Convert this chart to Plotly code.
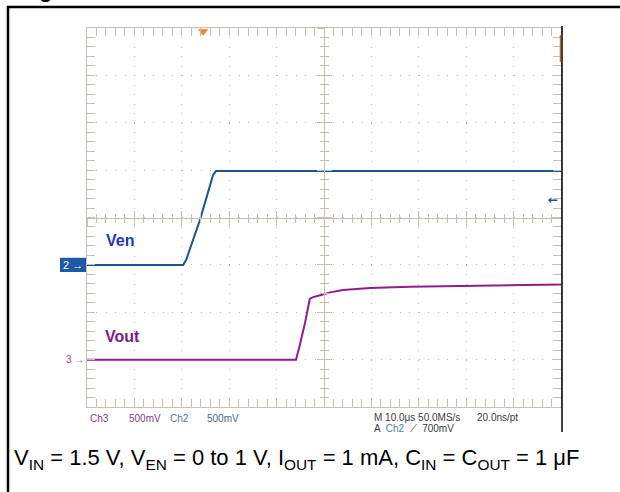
import plotly.graph_objects as go

# ---- data ----
# time in microseconds (10 us/div), voltages in volts (500 mV/div)
ven_time = [0, 20.3, 20.9, 21.7, 23.8, 25.5, 26.6, 27.2, 100]
ven_volt = [0, 0, 0.05, 0.16, 0.47, 0.76, 0.95, 0.99, 0.99]

vout_time = [0, 44.1, 44.9, 46.0, 47.0, 47.7, 49.2, 51.3, 54.0, 59.7, 68.1, 78.7, 89.2, 100]
vout_volt = [0, 0, 0.155, 0.39, 0.64, 0.66, 0.68, 0.71, 0.735, 0.756, 0.77, 0.78, 0.788, 0.793]

trigger_time = [24.5]
x_range = [0, 100]          # 10 divisions x 10 us
div_range = [-4, 4]          # 8 vertical divisions
ven_range = [-1.5, 2.5]      # Ch2 ground 1 div below centre
vout_range = [-0.5, 3.5]     # Ch3 ground 3 div below centre

W, H = 620, 492
L, R, T, B = 87, 59, 28, 85
PW, PH = W - L - R, H - T - B

def px(x):
    return (x - L) / PW

def py(y):
    return (H - B - y) / PH

BORDER = "#c6bfb0"
GRID = "#bcbcbc"
VEN_C = "#1d5592"
VOUT_C = "#8e1d8e"

fig = go.Figure()
fig.add_trace(go.Scatter(x=ven_time, y=ven_volt, mode="lines", yaxis="y2",
                         line=dict(color=VEN_C, width=2), showlegend=False))
fig.add_trace(go.Scatter(x=vout_time, y=vout_volt, mode="lines", yaxis="y3",
                         line=dict(color=VOUT_C, width=2), showlegend=False))
fig.add_trace(go.Scatter(x=trigger_time, y=[3.93], mode="markers", yaxis="y",
                         marker=dict(symbol="triangle-down", size=9, color="#f08a2e"),
                         cliponaxis=False, showlegend=False))
# helper (empty) traces so the centre graticule axes are drawn
fig.add_trace(go.Scatter(x=[None], y=[None], xaxis="x2", yaxis="y", showlegend=False))
fig.add_trace(go.Scatter(x=[None], y=[None], xaxis="x3", yaxis="y", showlegend=False))
fig.add_trace(go.Scatter(x=[None], y=[None], xaxis="x", yaxis="y4", showlegend=False))
fig.add_trace(go.Scatter(x=[None], y=[None], xaxis="x", yaxis="y5", showlegend=False))

frame_axis = dict(showline=True, linecolor=BORDER, linewidth=1, mirror="allticks",
                  ticks="inside", ticklen=8, tickcolor=BORDER, tickwidth=1,
                  showticklabels=False, zeroline=False, showgrid=True,
                  gridcolor=GRID, gridwidth=1, griddash="1px,8.48px", fixedrange=True)

center_x = dict(overlaying="x", anchor="free", position=0.5, range=x_range,
                showline=True, linecolor=BORDER, linewidth=1, tickcolor=BORDER,
                dtick=10, ticklen=7, showticklabels=False, showgrid=False, zeroline=False,
                minor=dict(dtick=2, ticklen=4, tickcolor=BORDER, showgrid=False))
center_y = dict(overlaying="y", anchor="free", position=0.5, range=div_range,
                showline=True, linecolor=BORDER, linewidth=1, tickcolor=BORDER,
                dtick=1, ticklen=7, showticklabels=False, showgrid=False, zeroline=False,
                minor=dict(dtick=0.2, ticklen=4, tickcolor=BORDER, showgrid=False))

fig.update_layout(
    width=W, height=H, margin=dict(l=L, r=R, t=T, b=B),
    paper_bgcolor="white", plot_bgcolor="white",
    xaxis=dict(range=x_range, dtick=10,
               minor=dict(dtick=2, ticks="inside", ticklen=4, tickcolor=BORDER, showgrid=False),
               **frame_axis),
    yaxis=dict(range=div_range, dtick=1,
               minor=dict(dtick=0.2, ticks="inside", ticklen=4, tickcolor=BORDER, showgrid=False),
               **frame_axis),
    xaxis2=dict(ticks="outside", **center_x),
    xaxis3=dict(ticks="inside", **center_x),
    yaxis2=dict(overlaying="y", range=ven_range, visible=False),
    yaxis3=dict(overlaying="y", range=vout_range, visible=False),
    yaxis4=dict(ticks="outside", **center_y),
    yaxis5=dict(ticks="inside", **center_y),
    showlegend=False,
    font=dict(family="Liberation Sans, Arial, sans-serif", size=10),
)
fig.layout.xaxis2.minor.ticks = "outside"
fig.layout.xaxis3.minor.ticks = "inside"
fig.layout.yaxis4.minor.ticks = "outside"
fig.layout.yaxis5.minor.ticks = "inside"

shapes = [
    # outer black frame (left + top)
    dict(type="line", xref="paper", yref="paper", x0=px(8), x1=px(8), y0=py(6), y1=py(H + 2),
         line=dict(color="black", width=2.5)),
    dict(type="line", xref="paper", yref="paper", x0=px(7), x1=px(W + 2), y0=py(7), y1=py(7),
         line=dict(color="black", width=2.5)),
    # right edge of scope screenshot
    dict(type="line", xref="paper", yref="paper", x0=px(562), x1=px(562), y0=py(26), y1=py(432),
         line=dict(color="black", width=1.5)),
    # trigger level marker on right edge
    dict(type="line", xref="paper", yref="paper", x0=px(560.5), x1=px(560.5), y0=py(35), y1=py(62),
         line=dict(color="#b06a3a", width=1.5)),
    # channel 2 ground marker box
    dict(type="rect", xref="paper", yref="y2", x0=px(60), x1=px(86), y0=-0.075, y1=0.075,
         fillcolor="#1f5aa6", line=dict(width=0)),
]
fig.update_layout(shapes=shapes)

FAM = "Liberation Sans, Arial, sans-serif"
ann = [
    dict(text="<b>g</b>", x=px(45), y=py(4), xref="paper", yref="paper", showarrow=False,
         font=dict(family=FAM, size=22, color="black"), xanchor="center", yanchor="bottom"),
    dict(text="2 →", x=px(73), y=0, xref="paper", yref="y2", showarrow=False,
         font=dict(family=FAM, color="white", size=11), xanchor="center", yanchor="middle"),
    dict(text="3 →", x=px(86), y=0, xref="paper", yref="y3", showarrow=False,
         font=dict(family=FAM, color="#8a4a8a", size=10), xanchor="right", yanchor="middle"),
    dict(text="<b>←</b>", x=px(553), y=py(200), xref="paper", yref="paper", showarrow=False,
         font=dict(family="DejaVu Sans", color=VEN_C, size=12), xanchor="center", yanchor="middle"),
    dict(text="<b>Ven</b>", x=px(104), y=py(240), xref="paper", yref="paper", showarrow=False,
         font=dict(family=FAM, size=16, color="#2235b5"),
         xanchor="left", yanchor="middle"),
    dict(text="<b>Vout</b>", x=px(103), y=py(336), xref="paper", yref="paper", showarrow=False,
         font=dict(family=FAM, size=16, color="#7d1c7d"),
         xanchor="left", yanchor="middle"),
    dict(text="Ch3", x=px(88), y=py(418), xref="paper", yref="paper", showarrow=False,
         font=dict(family=FAM, size=10, color="#7e3a8e"), xanchor="left", yanchor="middle"),
    dict(text="500mV", x=px(127), y=py(418), xref="paper", yref="paper", showarrow=False,
         font=dict(family=FAM, size=10, color="#7e3a8e"), xanchor="left", yanchor="middle"),
    dict(text="Ch2", x=px(168), y=py(418), xref="paper", yref="paper", showarrow=False,
         font=dict(family=FAM, size=10, color="#4a7aa5"), xanchor="left", yanchor="middle"),
    dict(text="500mV", x=px(205), y=py(418), xref="paper", yref="paper", showarrow=False,
         font=dict(family=FAM, size=10, color="#3a6a9e"), xanchor="left", yanchor="middle"),
    dict(text="M 10.0μs 50.0MS/s", x=px(372), y=py(417), xref="paper", yref="paper", showarrow=False,
         font=dict(family=FAM, size=10, color="#3a3a3a"), xanchor="left", yanchor="middle"),
    dict(text="20.0ns/pt", x=px(475), y=py(417), xref="paper", yref="paper", showarrow=False,
         font=dict(family=FAM, size=10, color="#3a3a3a"), xanchor="left", yanchor="middle"),
    dict(text="A  <span style='color:#4a7aa5'>Ch2</span>  ⟋  700mV", x=px(372), y=py(428),
         xref="paper", yref="paper", showarrow=False,
         font=dict(family=FAM, size=10, color="#3a3a3a"), xanchor="left", yanchor="middle"),
    dict(text="V<sub>IN</sub> = 1.5 V, V<sub>EN</sub> = 0 to 1 V, I<sub>OUT</sub> = 1 mA, "
              "C<sub>IN</sub> = C<sub>OUT</sub> = 1 μF",
         x=px(12), y=py(459), xref="paper", yref="paper", showarrow=False,
         font=dict(family=FAM, size=22, color="black"),
         xanchor="left", yanchor="middle"),
]
fig.update_layout(annotations=ann)

fig.write_html("out.html", config={"displayModeBar": False},
               post_script="document.body.style.margin='0';document.body.style.padding='0';")
